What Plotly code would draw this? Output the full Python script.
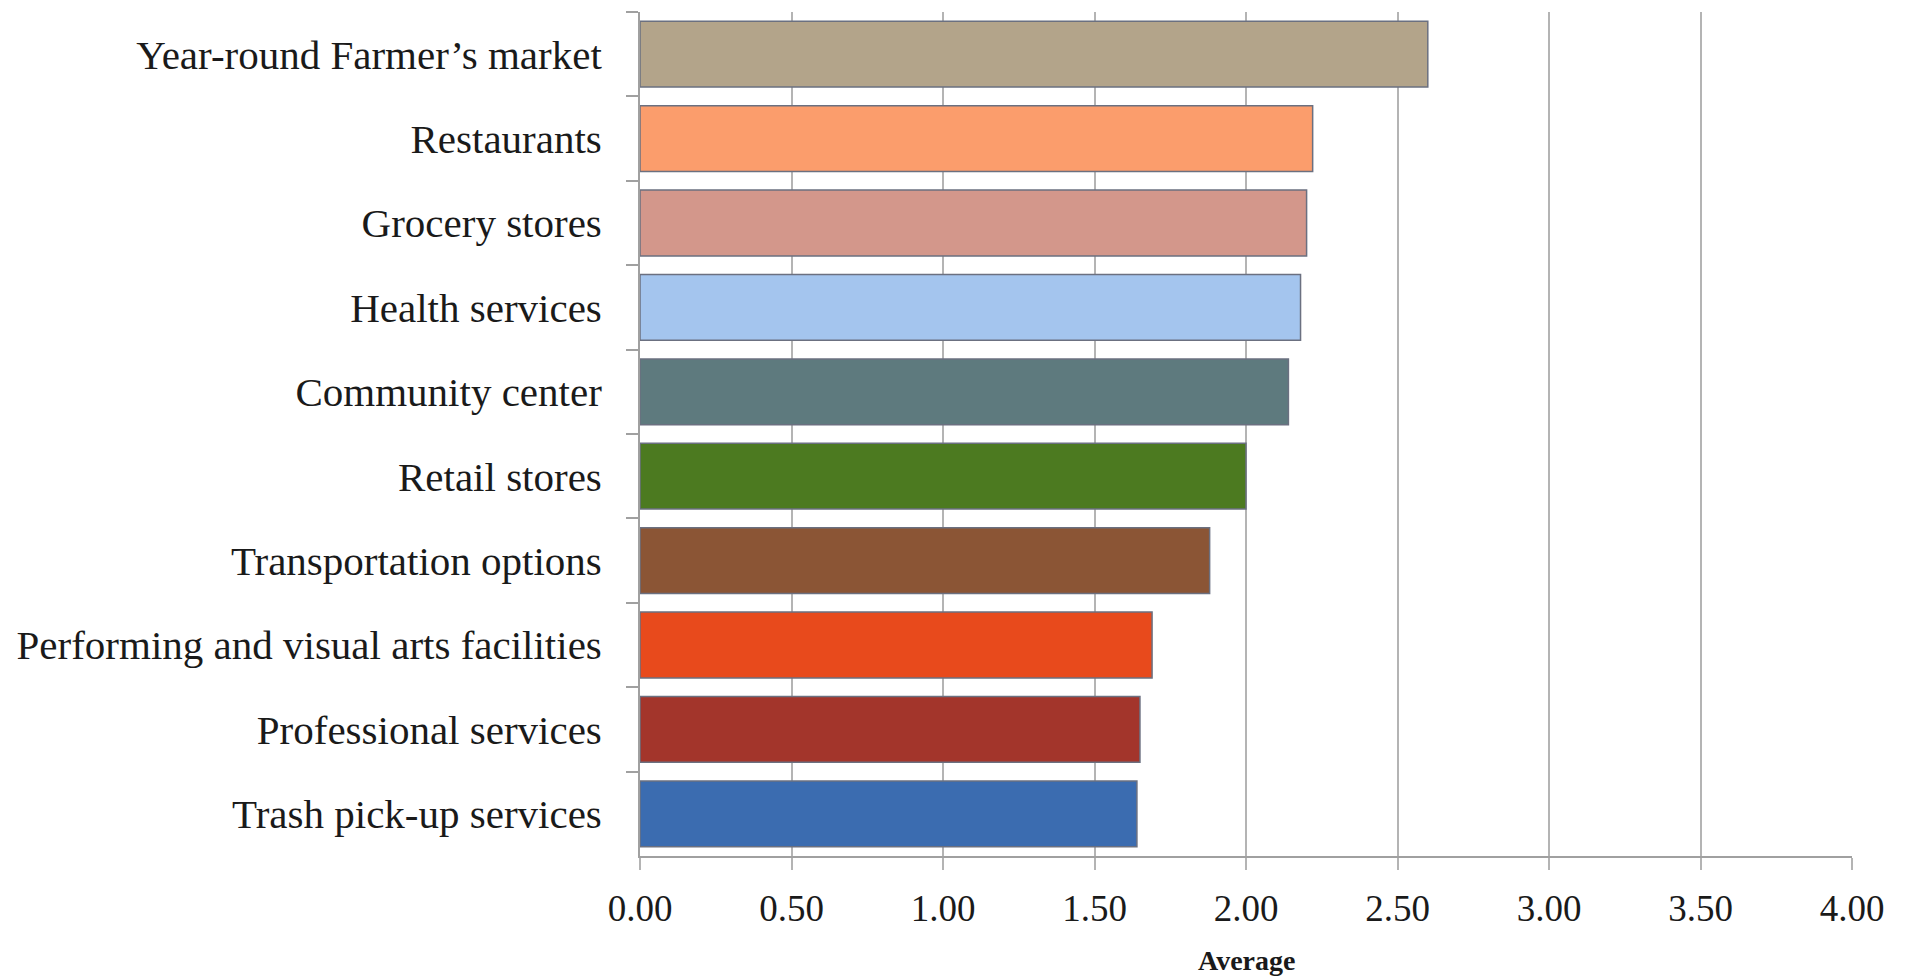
import plotly.graph_objects as go

categories = [
    "Year-round Farmer\u2019s market",
    "Restaurants",
    "Grocery stores",
    "Health services",
    "Community center",
    "Retail stores",
    "Transportation options",
    "Performing and visual arts facilities",
    "Professional services",
    "Trash pick-up services",
]
values = [2.60, 2.22, 2.20, 2.18, 2.14, 2.00, 1.88, 1.69, 1.65, 1.64]
bar_colors = [
    "#b3a48a", "#fb9d6c", "#d3978b", "#a4c5ee", "#5e7a7e",
    "#4c7a20", "#8b5535", "#e84a1c", "#a3352b", "#3b6cb0",
]
x_tickvals = [0, 0.5, 1.0, 1.5, 2.0, 2.5, 3.0, 3.5, 4.0]
x_ticktext = ["0.00", "0.50", "1.00", "1.50", "2.00", "2.50", "3.00", "3.50", "4.00"]
x_title = "Average"

serif = "Liberation Serif, DejaVu Serif, serif"

fig = go.Figure(
    go.Bar(
        x=values,
        y=categories,
        orientation="h",
        marker=dict(color=bar_colors, line=dict(color="#6b7080", width=1.5)),
        hoverinfo="x+y",
    )
)

fig.update_layout(
    width=1906,
    height=977,
    margin=dict(l=640, r=54, t=12, b=121),
    paper_bgcolor="white",
    plot_bgcolor="white",
    bargap=0.22,
    showlegend=False,
    font=dict(family=serif, color="#1a1a1a"),
)

fig.add_annotation(
    text="<b>" + x_title + "</b>",
    xref="paper", yref="paper", x=0.5, y=0,
    xanchor="center", yanchor="middle", yshift=-104,
    showarrow=False,
    font=dict(size=28, family=serif, color="#1a1a1a"),
)

fig.update_xaxes(
    range=[0, 4],
    tickvals=x_tickvals,
    ticktext=x_ticktext,
    tickfont=dict(size=37, family=serif, color="#1a1a1a"),
    showgrid=True,
    gridcolor="#b4b4b4",
    gridwidth=1.5,
    showline=True,
    linecolor="#a0a0a0",
    linewidth=2,
    ticks="outside",
    ticklen=12,
    tickcolor="#b4b4b4",
    tickwidth=1.5,
    ticklabelstandoff=7,
    zeroline=False,
    automargin=False,
)

fig.update_yaxes(
    autorange="reversed",
    categoryorder="array",
    categoryarray=categories,
    tickfont=dict(size=41, family=serif, color="#1a1a1a"),
    showgrid=False,
    showline=True,
    linecolor="#a0a0a0",
    linewidth=2,
    ticks="outside",
    tickson="boundaries",
    ticklen=12,
    tickcolor="#a0a0a0",
    tickwidth=1.5,
    ticklabelstandoff=28,
    zeroline=False,
    automargin=False,
)

fig.write_html(
    "out.html",
    config={"displayModeBar": False},
    post_script="document.body.style.margin='0'; document.body.style.overflow='hidden';",
)
